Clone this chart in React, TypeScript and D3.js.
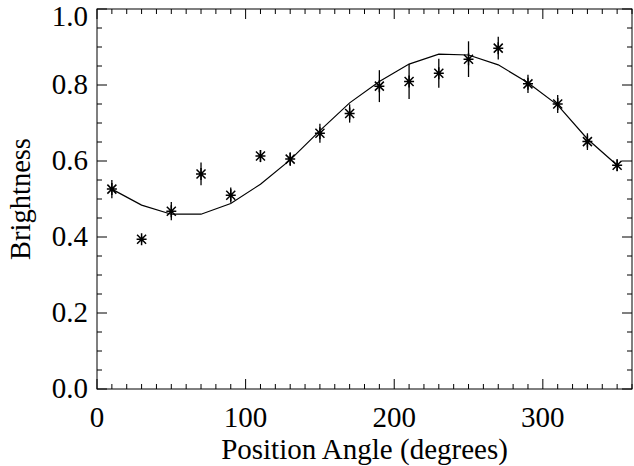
import * as d3 from 'd3';

// position angles (deg)
const angles = [10, 30, 50, 70, 90, 110, 130, 150, 170, 190, 210, 230, 250, 270, 290, 310, 330, 350];
// measured brightness
const brightness = [0.526, 0.394, 0.468, 0.566, 0.51, 0.613, 0.605, 0.673, 0.725, 0.797, 0.809, 0.831, 0.868, 0.897, 0.803, 0.75, 0.651, 0.589];
// 1-sigma errors
const errors = [0.024, 0.008, 0.024, 0.03, 0.02, 0.016, 0.018, 0.025, 0.024, 0.042, 0.046, 0.038, 0.047, 0.03, 0.024, 0.024, 0.022, 0.015];
// model curve
const model = [0.526, 0.484, 0.46, 0.46, 0.488, 0.539, 0.603, 0.68, 0.753, 0.809, 0.855, 0.881, 0.879, 0.853, 0.806, 0.747, 0.658, 0.589];

const xTicks = [0, 100, 200, 300];
const yTicks = [0.0, 0.2, 0.4, 0.6, 0.8, 1.0];

const W = 634, H = 466;
const FONT = 'Liberation Serif';
const left = 97, right = 632, top = 9, bottom = 389;

const x = d3.scaleLinear().domain([0, 360]).range([left, right]);
const y = d3.scaleLinear().domain([0, 1]).range([bottom, top]);

const xMinor = d3.range(0, 361, 10);
const yMinor = d3.range(0, 21).map(i => i * 0.05);

// IDL-style asterisk
const star = 'M0,-6L0,6M-5,0L5,0M-4.5,-4.5L4.5,4.5M-4.5,4.5L4.5,-4.5';

const txt = { fontFamily: FONT };

export default function App() {
  const line = d3.line<number>()
    .x((_, i) => x(angles[i]))
    .y(d => y(d));

  return (
    <svg width={W} height={H}
      style={{ position: 'absolute', left: 0, top: 0, background: '#fff' }}>
      <rect x={left} y={top} width={right - left} height={bottom - top}
        fill="none" stroke="#000" strokeWidth={1} />

      <g stroke="#000" strokeWidth={1}>
        {xMinor.map(v => {
          const len = v % 100 === 0 ? 10 : 5;
          return (
            <g key={'x' + v}>
              <line x1={x(v)} x2={x(v)} y1={bottom} y2={bottom - len} />
              <line x1={x(v)} x2={x(v)} y1={top} y2={top + len} />
            </g>
          );
        })}
        {yMinor.map((v, i) => {
          const len = i % 4 === 0 ? 10 : 5;
          return (
            <g key={'y' + i}>
              <line x1={left} x2={left + len} y1={y(v)} y2={y(v)} />
              <line x1={right} x2={right - len} y1={y(v)} y2={y(v)} />
            </g>
          );
        })}
      </g>

      {xTicks.map(d => (
        <text key={'xt' + d} x={x(d)} y={427} textAnchor="middle" fontFamily={FONT} fontSize={29} style={txt}>{d}</text>
      ))}
      {yTicks.map(d => (
        <text key={'yt' + d} x={88} y={Math.max(y(d) + 9, 26)} textAnchor="end" fontFamily={FONT} fontSize={29} style={txt}>
          {d.toFixed(1)}
        </text>
      ))}

      <text x={(left + right) / 2} y={459} textAnchor="middle" fontFamily={FONT} fontSize={29} style={txt}>
        Position Angle (degrees)
      </text>
      <text transform={`translate(30, ${(top + bottom) / 2}) rotate(-90)`} textAnchor="middle"
        fontFamily={FONT} fontSize={28.5} style={txt}>
        Brightness
      </text>

      <path d={line(model) ?? ''} fill="none" stroke="#000" strokeWidth={1.2} />

      {brightness.map((d, i) => (
        <line key={'e' + i} x1={x(angles[i])} x2={x(angles[i])}
          y1={y(d - errors[i])} y2={y(d + errors[i])} stroke="#000" strokeWidth={1.3} />
      ))}
      {brightness.map((d, i) => (
        <path key={'s' + i} transform={`translate(${x(angles[i])},${y(d)})`} d={star}
          fill="none" stroke="#000" strokeWidth={1.5} />
      ))}
    </svg>
  );
}
